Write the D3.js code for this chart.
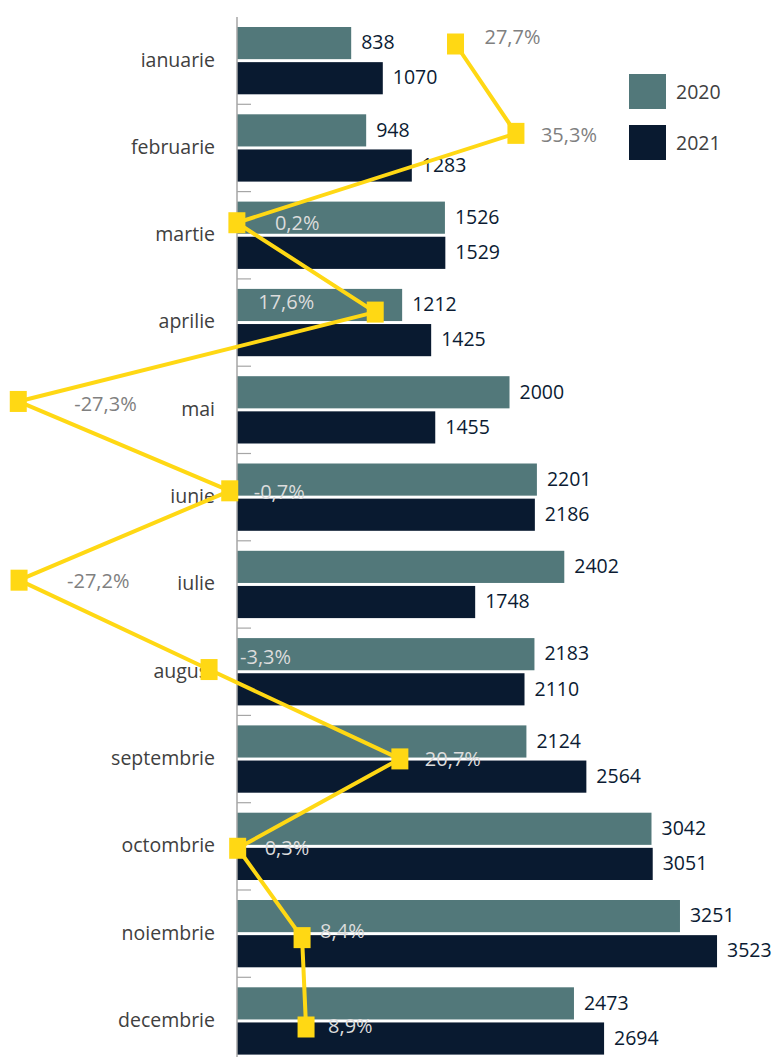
<!DOCTYPE html>
<html>
<head>
<meta charset="utf-8">
<script src="https://cdn.jsdelivr.net/npm/d3@7"></script>
<style>
  html, body { margin: 0; padding: 0; background: #fff; }
  svg { display: block; font-family: "Open Sans", sans-serif; }
</style>
</head>
<body>
<svg id="chart"></svg>
<script>
// data
var months = ["ianuarie", "februarie", "martie", "aprilie", "mai", "iunie",
              "iulie", "august", "septembrie", "octombrie", "noiembrie", "decembrie"];
var series = ["2020", "2021"];
var values2020 = [838, 948, 1526, 1212, 2000, 2201, 2402, 2183, 2124, 3042, 3251, 2473];
var values2021 = [1070, 1283, 1529, 1425, 1455, 2186, 1748, 2110, 2564, 3051, 3523, 2694];
var change = [27.7, 35.3, 0.2, 17.6, -27.3, -0.7, -27.2, -3.3, 20.7, 0.3, 8.4, 8.9];

// hand-placed label offsets for the % labels (like in the source chart)
var pctLabelDx = [29, 25, 38, -117, 56, 24, 48, 31, 25, 27, 18, 22];
var pctLabelDy = [-7, 2, 0, -10, 3, 1, 1, -12, 0, 0, -6, -1];

var config = { w: 774, h: 1057 };
var colors = { "2020": "#52787a", "2021": "#091a30" };
var yellow = "#ffd814";

var svg = d3.select("#chart")
  .attr("width", config.w)
  .attr("height", config.h);

// scales
var x = d3.scaleLinear().domain([0, 3500]).range([237, 713.9]);
var xPct = d3.scaleLinear().domain([-30, 40]).range([-3.2, 553.3]);

var y = d3.scaleBand().domain(months).range([17, 17 + 12 * 87.3]);
var ySub = d3.scaleBand().domain(series).range([10, 77.3]).paddingInner(0.085);
var yLine = d3.scalePoint().domain(months).range([44, 1027]);

function fmtPct(v) {
  return d3.format(".1f")(v).replace(".", ",").replace("\u2212", "-") + "%";
}

// bars
var rows = months.map(function(m, i) {
  return { month: m, "2020": values2020[i], "2021": values2021[i], change: change[i] };
});

var groups = svg.append("g").selectAll("g.month")
  .data(rows)
  .enter().append("g")
    .attr("class", "month")
    .attr("transform", function(d) { return "translate(0," + y(d.month) + ")"; });

groups.selectAll("rect")
  .data(function(d) { return series.map(function(s) { return { s: s, v: d[s] }; }); })
  .enter().append("rect")
    .attr("x", x(0))
    .attr("y", function(d) { return ySub(d.s); })
    .attr("width", function(d) { return x(d.v) - x(0); })
    .attr("height", ySub.bandwidth())
    .attr("fill", function(d) { return colors[d.s]; });

groups.selectAll("text.val")
  .data(function(d) { return series.map(function(s) { return { s: s, v: d[s] }; }); })
  .enter().append("text")
    .attr("class", "val")
    .attr("x", function(d) { return x(d.v) + 10; })
    .attr("y", function(d) { return ySub(d.s) + ySub.bandwidth() / 2; })
    .attr("dy", "0.32em")
    .attr("font-size", 19.5)
    .attr("fill", "#0b1b33")
    .text(function(d) { return d.v; });

// category axis
var axis = svg.append("g").attr("class", "axis");
axis.append("line")
  .attr("x1", x(0)).attr("x2", x(0))
  .attr("y1", y.range()[0]).attr("y2", config.h)
  .attr("stroke", "#a6a6a6").attr("stroke-width", 1.5);

axis.selectAll("line.tick")
  .data(months.slice(1))
  .enter().append("line")
    .attr("class", "tick")
    .attr("x1", x(0)).attr("x2", x(0) + 14)
    .attr("y1", function(d) { return y(d); })
    .attr("y2", function(d) { return y(d); })
    .attr("stroke", "#a6a6a6").attr("stroke-width", 1.2);

axis.selectAll("text")
  .data(months)
  .enter().append("text")
    .attr("x", 215)
    .attr("y", function(d) { return y(d) + y.bandwidth() / 2; })
    .attr("dy", "0.3em")
    .attr("text-anchor", "end")
    .attr("font-size", 19.5)
    .attr("fill", "#404040")
    .text(function(d) { return d; });

// change line
var line = d3.line()
  .x(function(d) { return xPct(d.change); })
  .y(function(d) { return yLine(d.month); });

svg.append("path")
  .datum(rows)
  .attr("d", line)
  .attr("fill", "none")
  .attr("stroke", yellow)
  .attr("stroke-width", 4)
  .attr("stroke-linejoin", "round");

svg.append("g").selectAll("rect")
  .data(rows)
  .enter().append("rect")
    .attr("x", function(d) { return xPct(d.change) - 8.5; })
    .attr("y", function(d) { return yLine(d.month) - 10.5; })
    .attr("width", 17)
    .attr("height", 21)
    .attr("fill", yellow);

svg.append("g").selectAll("text")
  .data(rows)
  .enter().append("text")
    .attr("x", function(d, i) { return xPct(d.change) + pctLabelDx[i]; })
    .attr("y", function(d, i) { return yLine(d.month) + pctLabelDy[i]; })
    .attr("dy", "0.34em")
    .attr("font-size", 20)
    .attr("fill", function(d, i) {
      var lx = xPct(d.change) + pctLabelDx[i];
      var over = lx > x(0) && lx < x(Math.max(d["2020"], d["2021"]));
      return over ? "#dcdcdc" : "#808080";
    })
    .text(function(d) { return fmtPct(d.change); });

// legend
var leg = svg.append("g").attr("transform", "translate(629,74)");
var items = leg.selectAll("g")
  .data(series)
  .enter().append("g")
    .attr("transform", function(d, i) { return "translate(0," + (i * 51) + ")"; });
items.append("rect")
  .attr("width", 37).attr("height", 35)
  .attr("fill", function(d) { return colors[d]; });
items.append("text")
  .attr("x", 47)
  .attr("y", 18)
  .attr("dy", "0.34em")
  .attr("font-size", 19.5)
  .attr("fill", "#404040")
  .text(function(d) { return d; });
</script>
</body>
</html>
